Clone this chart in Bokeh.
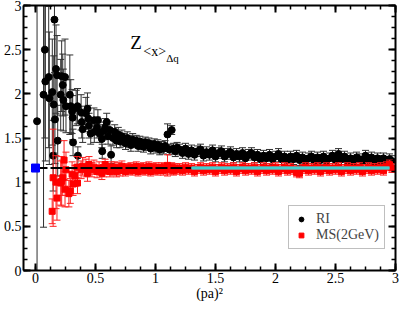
import numpy as np
from bokeh.plotting import figure
from bokeh.models import (Range1d, LinearAxis, SingleIntervalTicker, NumeralTickFormatter,
                          Legend, LegendItem, Label, CustomLabelingPolicy)
from bokeh.embed import file_html
from bokeh.resources import INLINE

# ---------------- data ----------------
# low (pa)^2 region, RI
p2_ri_low = [0.013, 0.067, 0.078, 0.082, 0.110, 0.115, 0.140, 0.147, 0.152, 0.158, 0.162,
             0.171, 0.180, 0.185, 0.210, 0.218, 0.227, 0.232, 0.246, 0.254, 0.286, 0.294,
             0.305, 0.310, 0.313, 0.339, 0.350, 0.353, 0.380, 0.385, 0.393, 0.420, 0.433,
             0.440, 0.446, 0.460, 0.487, 0.490, 0.513, 0.520, 0.535, 0.553, 0.556, 0.567,
             0.580, 0.593, 0.605, 0.620, 0.630]
ri_low = [1.69, 1.99, 2.50, 2.14, 2.19, 1.95, 2.02, 1.30, 1.88, 2.84, 1.71,
          2.28, 2.21, 1.47, 1.99, 2.20, 2.10, 1.93, 2.19, 1.86, 1.99, 1.86,
          1.80, 1.73, 1.45, 1.84, 1.86, 1.30, 1.79, 1.68, 1.60, 1.78, 1.83,
          1.72, 1.64, 1.55, 1.70, 1.57, 1.62, 1.70, 1.55, 1.49, 1.35, 1.58,
          1.62, 1.68, 1.52, 1.59, 1.31]
ri_low_err = [1.75, 1.50, 1.00, 0.90, 0.80, 0.75, 0.60, 0.40, 0.55, 0.60, 0.50,
              0.50, 0.45, 0.40, 0.40, 0.40, 0.35, 0.35, 0.43, 0.30, 0.45, 0.30,
              0.25, 0.25, 0.15, 0.20, 0.20, 0.10, 0.20, 0.18, 0.15, 0.18, 0.18,
              0.15, 0.14, 0.12, 0.14, 0.12, 0.12, 0.12, 0.10, 0.10, 0.08, 0.10,
              0.10, 0.10, 0.09, 0.10, 0.10]

# low (pa)^2 region, MS(2GeV)
p2_ms_low = [0.139, 0.147, 0.171, 0.179, 0.210, 0.218, 0.227, 0.238, 0.246, 0.254, 0.278,
             0.290, 0.305, 0.313, 0.330, 0.345, 0.350, 0.380, 0.393, 0.420, 0.433, 0.446,
             0.470, 0.487, 0.513, 0.530, 0.553, 0.567, 0.580, 0.593, 0.620, 0.630]
ms_low = [0.67, 1.05, 1.00, 0.82, 0.99, 1.01, 1.05, 1.25, 0.92, 1.14, 0.87,
          0.90, 1.09, 0.98, 1.07, 1.17, 0.99, 1.14, 1.18, 1.16, 1.10, 1.20,
          1.14, 1.17, 1.12, 1.16, 1.10, 1.13, 1.20, 1.15, 1.12, 1.17]
ms_low_err = [0.14, 0.55, 0.30, 0.25, 0.25, 0.28, 0.20, 0.22, 0.20, 0.20, 0.15,
              0.14, 0.14, 0.13, 0.12, 0.12, 0.12, 0.10, 0.10, 0.10, 0.09, 0.09,
              0.08, 0.08, 0.07, 0.07, 0.07, 0.07, 0.06, 0.06, 0.06, 0.06]

# higher (pa)^2 region, both schemes at the same momenta
p2_high = [0.645, 0.660, 0.675, 0.690, 0.705, 0.720, 0.735, 0.750, 0.765, 0.780, 0.795, 0.810,
           0.825, 0.840, 0.855, 0.870, 0.885, 0.900, 0.915, 0.930, 0.945, 0.960, 0.975, 0.990,
           1.005, 1.020, 1.035, 1.050, 1.065, 1.080, 1.100, 1.115, 1.135, 1.150, 1.165, 1.180,
           1.200, 1.225, 1.250, 1.275, 1.300, 1.325, 1.350, 1.375, 1.400, 1.425, 1.450, 1.475,
           1.500, 1.525, 1.550, 1.575, 1.600, 1.625, 1.650, 1.675, 1.700, 1.725, 1.750, 1.775,
           1.800, 1.825, 1.850, 1.875, 1.900, 1.925, 1.950, 1.975, 2.000, 2.025, 2.050, 2.075,
           2.100, 2.125, 2.150, 2.175, 2.200, 2.225, 2.250, 2.275, 2.300, 2.325, 2.350, 2.375,
           2.400, 2.425, 2.450, 2.475, 2.500, 2.525, 2.550, 2.575, 2.600, 2.625, 2.650, 2.675,
           2.700, 2.725, 2.750, 2.775, 2.800, 2.825, 2.850, 2.875, 2.900, 2.925, 2.950, 2.970]
ri_high = [1.50, 1.57, 1.47, 1.54, 1.46, 1.52, 1.48, 1.44, 1.50, 1.46, 1.42, 1.48,
           1.45, 1.47, 1.41, 1.46, 1.43, 1.40, 1.45, 1.42, 1.44, 1.38, 1.41, 1.43,
           1.39, 1.42, 1.37, 1.40, 1.38, 1.41, 1.54, 1.37, 1.59, 1.38, 1.35, 1.39,
           1.37, 1.33, 1.38, 1.32, 1.36, 1.31, 1.35, 1.37, 1.30, 1.34, 1.31, 1.36,
           1.29, 1.33, 1.35, 1.29, 1.32, 1.34, 1.28, 1.32, 1.29, 1.33, 1.27, 1.31,
           1.33, 1.28, 1.31, 1.26, 1.30, 1.27, 1.31, 1.26, 1.29, 1.32, 1.26, 1.29,
           1.25, 1.29, 1.26, 1.30, 1.25, 1.28, 1.24, 1.27, 1.29, 1.24, 1.28, 1.25,
           1.29, 1.24, 1.27, 1.30, 1.25, 1.32, 1.26, 1.29, 1.24, 1.27, 1.23, 1.28,
           1.26, 1.23, 1.30, 1.25, 1.28, 1.23, 1.27, 1.24, 1.27, 1.23, 1.26, 1.24]
ri_high_err = [0.08, 0.08, 0.08, 0.08, 0.07, 0.07, 0.07, 0.07, 0.07, 0.07, 0.07, 0.07,
               0.06, 0.06, 0.06, 0.06, 0.06, 0.06, 0.06, 0.06, 0.06, 0.06, 0.06, 0.06,
               0.06, 0.06, 0.06, 0.06, 0.06, 0.06, 0.12, 0.06, 0.05, 0.06, 0.06, 0.06,
               0.06, 0.06, 0.06, 0.06, 0.06, 0.06, 0.06, 0.06, 0.06, 0.06, 0.06, 0.06,
               0.06, 0.06, 0.06, 0.06, 0.06, 0.06, 0.06, 0.06, 0.06, 0.06, 0.06, 0.06,
               0.06, 0.06, 0.06, 0.06, 0.06, 0.06, 0.06, 0.06, 0.06, 0.06, 0.06, 0.06,
               0.06, 0.06, 0.06, 0.06, 0.06, 0.06, 0.06, 0.06, 0.06, 0.06, 0.06, 0.06,
               0.06, 0.06, 0.06, 0.06, 0.06, 0.06, 0.06, 0.06, 0.06, 0.06, 0.06, 0.06,
               0.06, 0.06, 0.06, 0.06, 0.06, 0.06, 0.06, 0.06, 0.06, 0.06, 0.06, 0.06]
ms_high = [1.14, 1.17, 1.12, 1.16, 1.13, 1.18, 1.15, 1.12, 1.16, 1.14, 1.17, 1.13,
           1.15, 1.18, 1.12, 1.16, 1.14, 1.17, 1.13, 1.15, 1.18, 1.12, 1.16, 1.14,
           1.17, 1.13, 1.15, 1.17, 1.13, 1.16, 1.19, 1.14, 1.17, 1.13, 1.16, 1.14,
           1.16, 1.13, 1.17, 1.14, 1.16, 1.12, 1.15, 1.17, 1.13, 1.16, 1.14, 1.17,
           1.12, 1.15, 1.17, 1.13, 1.16, 1.14, 1.17, 1.12, 1.15, 1.17, 1.13, 1.16,
           1.14, 1.17, 1.12, 1.15, 1.17, 1.13, 1.16, 1.14, 1.17, 1.12, 1.15, 1.17,
           1.13, 1.16, 1.14, 1.11, 1.10, 1.15, 1.17, 1.13, 1.16, 1.14, 1.17, 1.12,
           1.15, 1.17, 1.13, 1.16, 1.14, 1.17, 1.12, 1.15, 1.17, 1.13, 1.16, 1.14,
           1.17, 1.12, 1.15, 1.17, 1.13, 1.16, 1.14, 1.17, 1.13, 1.18, 1.20, 1.16]
ms_high_err = [0.06, 0.06, 0.06, 0.06, 0.06, 0.06, 0.05, 0.05, 0.05, 0.05, 0.05, 0.05,
               0.05, 0.05, 0.05, 0.05, 0.05, 0.05, 0.05, 0.05, 0.05, 0.05, 0.05, 0.05,
               0.05, 0.05, 0.05, 0.05, 0.05, 0.05, 0.12, 0.05, 0.05, 0.05, 0.05, 0.05,
               0.05, 0.05, 0.05, 0.05, 0.05, 0.05, 0.05, 0.05, 0.05, 0.05, 0.05, 0.05,
               0.05, 0.05, 0.05, 0.05, 0.05, 0.05, 0.05, 0.05, 0.05, 0.05, 0.05, 0.05,
               0.05, 0.05, 0.05, 0.05, 0.05, 0.05, 0.05, 0.05, 0.05, 0.05, 0.05, 0.05,
               0.05, 0.05, 0.05, 0.05, 0.05, 0.05, 0.05, 0.05, 0.05, 0.05, 0.05, 0.05,
               0.05, 0.05, 0.05, 0.05, 0.05, 0.05, 0.05, 0.05, 0.05, 0.05, 0.05, 0.05,
               0.05, 0.05, 0.05, 0.05, 0.05, 0.05, 0.05, 0.05, 0.05, 0.05, 0.05, 0.05]

# extrapolated value at (pa)^2 = 0 and the fit
p2_extrap = [0.0]
z_extrap = [1.16]
z_extrap_err = [0.035]
fit_value = 1.16
fit_range = [1.30, 2.95]

tick_interval = 0.5

# ---------------- figure ----------------
SERIF = "Liberation Serif"
p = figure(width=399, height=303, output_backend="svg", toolbar_location=None,
           x_range=Range1d(-0.1, 3.0), y_range=Range1d(0.0, 3.0),
           min_border_left=2, min_border_right=4, min_border_top=5, min_border_bottom=0)
p.grid.visible = False
p.outline_line_color = None
p.background_fill_color = "white"
p.border_fill_color = "white"

p.add_layout(LinearAxis(), "above")
p.add_layout(LinearAxis(), "right")

all_axes = list(p.below) + list(p.left) + list(p.above) + list(p.right)
for ax in all_axes:
    ax.ticker = SingleIntervalTicker(interval=tick_interval, num_minor_ticks=4)
    ax.formatter = NumeralTickFormatter(format="0.[0]")
    ax.axis_line_width = 2
    ax.axis_line_color = "black"
    ax.major_tick_in = 7
    ax.major_tick_out = 0
    ax.minor_tick_in = 4
    ax.minor_tick_out = 0
    ax.major_tick_line_width = 2
    ax.minor_tick_line_width = 1.5
    ax.major_label_text_font = SERIF
    ax.major_label_text_font_size = "14px"
    ax.major_label_text_color = "black"
    ax.major_label_text_font_style = "normal"
    ax.major_label_standoff = 2

hide_all = CustomLabelingPolicy(code="for (const i of [...indices]) indices.unset(i); return indices")
for ax in list(p.above) + list(p.right):
    ax.major_label_text_font_size = "0px"
    ax.major_label_standoff = 0
    ax.major_label_policy = hide_all

for ax in p.below:
    ax.axis_label = "(pa)²"
    ax.axis_label_text_font = SERIF
    ax.axis_label_text_font_size = "14px"
    ax.axis_label_text_font_style = "normal"
    ax.axis_label_text_color = "black"
    ax.axis_label_standoff = 0

# ---------------- arrays ----------------
x_ri = np.array(p2_ri_low + p2_high)
y_ri = np.array(ri_low + ri_high)
e_ri = np.array(ri_low_err + ri_high_err)
x_ms = np.array(p2_ms_low + p2_high)
y_ms = np.array(ms_low + ms_high)
e_ms = np.array(ms_low_err + ms_high_err)

# RI: error bars, caps, points
p.segment(x0=x_ri, y0=y_ri - e_ri, x1=x_ri, y1=y_ri + e_ri, line_color="#303030", line_width=1)
p.scatter(x=np.concatenate([x_ri, x_ri]), y=np.concatenate([y_ri - e_ri, y_ri + e_ri]),
          marker="dash", size=7, line_color="#303030", line_width=1)
ri_r = p.scatter(x=x_ri, y=y_ri, marker="circle", size=7, fill_color="black", line_color="black")

# MS: error bars, caps, points
p.segment(x0=x_ms, y0=y_ms - e_ms, x1=x_ms, y1=y_ms + e_ms, line_color="#ff2020", line_width=1)
p.scatter(x=np.concatenate([x_ms, x_ms]), y=np.concatenate([y_ms - e_ms, y_ms + e_ms]),
          marker="dash", size=7, line_color="#ff2020", line_width=1)
ms_r = p.scatter(x=x_ms, y=y_ms, marker="square", size=6, fill_color="red", line_color="red")

# fit and extrapolation
p.line(x=[p2_extrap[0], fit_range[0]], y=[fit_value, fit_value], line_color="black",
       line_width=2, line_dash="12 3")
p.line(x=fit_range, y=[fit_value, fit_value], line_color="#8a8a8a", line_width=4)
p.line(x=fit_range, y=[fit_value, fit_value], line_color="#3fd0d0", line_width=2)

# extrapolated point
xe = np.array(p2_extrap)
ye = np.array(z_extrap)
ee = np.array(z_extrap_err)
p.segment(x0=xe, y0=ye - ee, x1=xe, y1=ye + ee, line_color="blue", line_width=1.5)
p.scatter(x=np.concatenate([xe, xe]), y=np.concatenate([ye - ee, ye + ee]),
          marker="dash", size=8, line_color="blue", line_width=1.5)
p.scatter(x=xe, y=ye, marker="square", size=8, fill_color="blue", line_color="blue")

# title-like label Z_<x>_Δq
p.add_layout(Label(x=0.79, y=2.58, text="Z", text_font=SERIF, text_font_size="19px",
                   text_baseline="alphabetic", text_color="black"))
p.add_layout(Label(x=0.79, y=2.48, x_offset=13, text="<x>", text_font=SERIF,
                   text_font_size="14px", text_baseline="alphabetic", text_color="black"))
p.add_layout(Label(x=0.79, y=2.405, x_offset=36, text="Δq", text_font=SERIF,
                   text_font_size="11px", text_baseline="alphabetic", text_color="black"))

legend = Legend(items=[LegendItem(label="RI", renderers=[ri_r]),
                       LegendItem(label="MS(2GeV)", renderers=[ms_r])],
                location=(265, 21), margin=0,
                border_line_color="#808080", border_line_width=1,
                label_text_font=SERIF, label_text_font_size="14px",
                glyph_width=14, glyph_height=12, label_height=12,
                spacing=0, padding=5, label_standoff=8,
                background_fill_color="white", background_fill_alpha=1)
p.add_layout(legend)

open("out.html", "w").write(file_html(p, INLINE))
